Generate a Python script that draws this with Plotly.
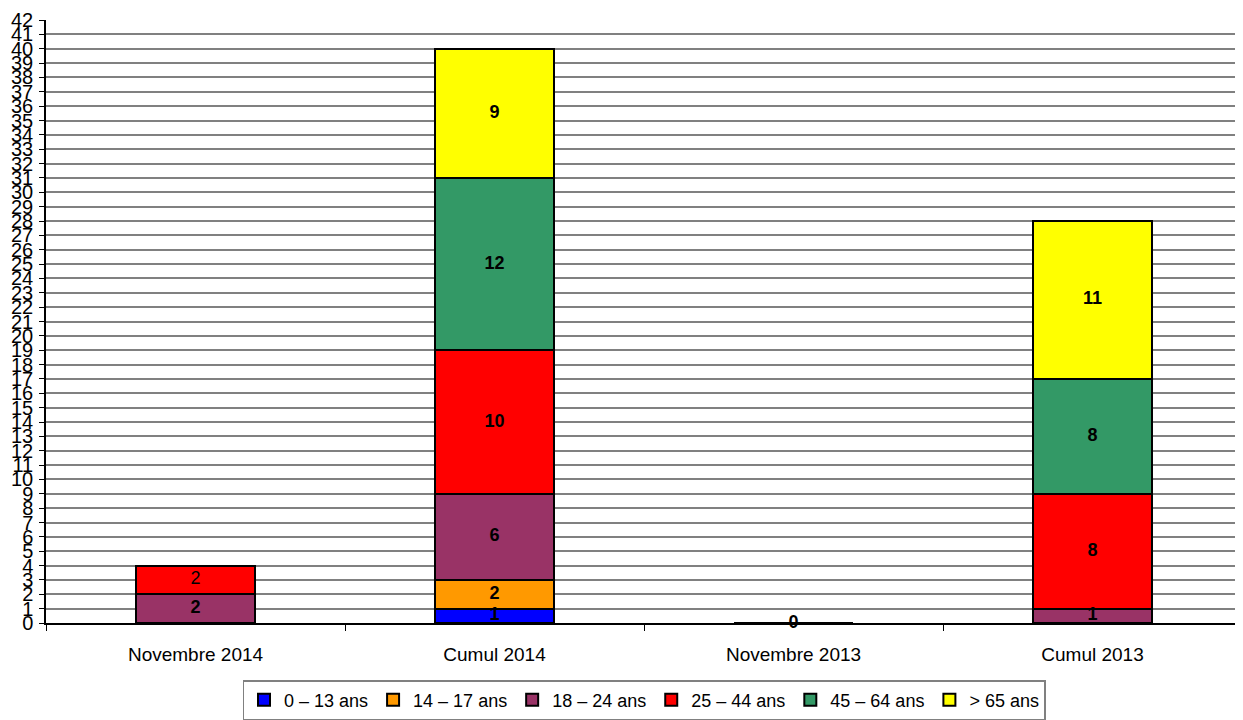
import plotly.graph_objects as go

categories = ["Novembre 2014", "Cumul 2014", "Novembre 2013", "Cumul 2013"]
series_names = ["0 – 13 ans", "14 – 17 ans", "18 – 24 ans", "25 – 44 ans", "45 – 64 ans", "> 65 ans"]
v_0_13 = [0, 1, 0, 0]
v_14_17 = [0, 2, 0, 0]
v_18_24 = [2, 6, 0, 1]
v_25_44 = [2, 10, 0, 8]
v_45_64 = [0, 12, 0, 8]
v_65 = [0, 9, 0, 11]
colors = ["#0000FF", "#FF9900", "#993366", "#FF0000", "#339966", "#FFFF00"]
y_ticks = list(range(0, 43))

series = [v_0_13, v_14_17, v_18_24, v_25_44, v_45_64, v_65]

fig = go.Figure()
for name, vals, col in zip(series_names, series, colors):
    fig.add_trace(go.Bar(
        x=categories, y=vals, name=name,
        marker=dict(color=col, line=dict(color="black", width=2)),
        hoverinfo="skip",
    ))

# data labels
lx, ly, lt = [], [], []
for ci, cat in enumerate(categories):
    base = 0
    total = sum(s[ci] for s in series)
    if total == 0:
        lx.append(cat); ly.append(0); lt.append("<b>0</b>")
        continue
    for si, s in enumerate(series):
        v = s[ci]
        if v > 0:
            lx.append(cat)
            ly.append(base + v / 2)
            bold = not (ci == 0 and si == 3)
            lt.append(f"<b>{v}</b>" if bold else f"{v}")
        base += v

fig.add_trace(go.Scatter(
    x=lx, y=ly, text=lt, mode="text", showlegend=False,
    textfont=dict(family="Liberation Sans, Arial", size=18, color="black"),
    hoverinfo="skip", cliponaxis=False,
))

# page body has an 8px default margin: compensate in size and margins
fig.update_layout(
    width=1235, height=712,
    margin=dict(l=38, r=1, t=12, b=97),
    barmode="stack", bargap=0.6,
    plot_bgcolor="white", paper_bgcolor="white",
    font=dict(family="Liberation Sans, Arial", size=16, color="black"),
    showlegend=True,
    legend=dict(
        orientation="h", x=0.5, xanchor="center",
        yref="container", y=0.0, yanchor="bottom",
        bordercolor="#808080", borderwidth=1.5,
        font=dict(size=18), traceorder="normal",
        itemwidth=30, tracegroupgap=0,
    ),
    xaxis=dict(
        type="category", showline=True, linecolor="black", linewidth=1.5,
        ticks="outside", tickson="boundaries", ticklen=6, tickcolor="black",
        showgrid=False, tickfont=dict(size=19), automargin=False,
        ticklabelstandoff=13,
    ),
    yaxis=dict(
        range=[0, 42], tickmode="array", tickvals=y_ticks,
        ticktext=[str(t) for t in y_ticks],
        showline=True, linecolor="black", linewidth=1.5,
        ticks="outside", ticklen=5, tickcolor="black",
        showgrid=True, gridcolor="#808080", gridwidth=1.5,
        zeroline=False, tickfont=dict(size=20), automargin=False,
        ticklabelstandoff=2,
    ),
)

fig.write_html("out.html")
